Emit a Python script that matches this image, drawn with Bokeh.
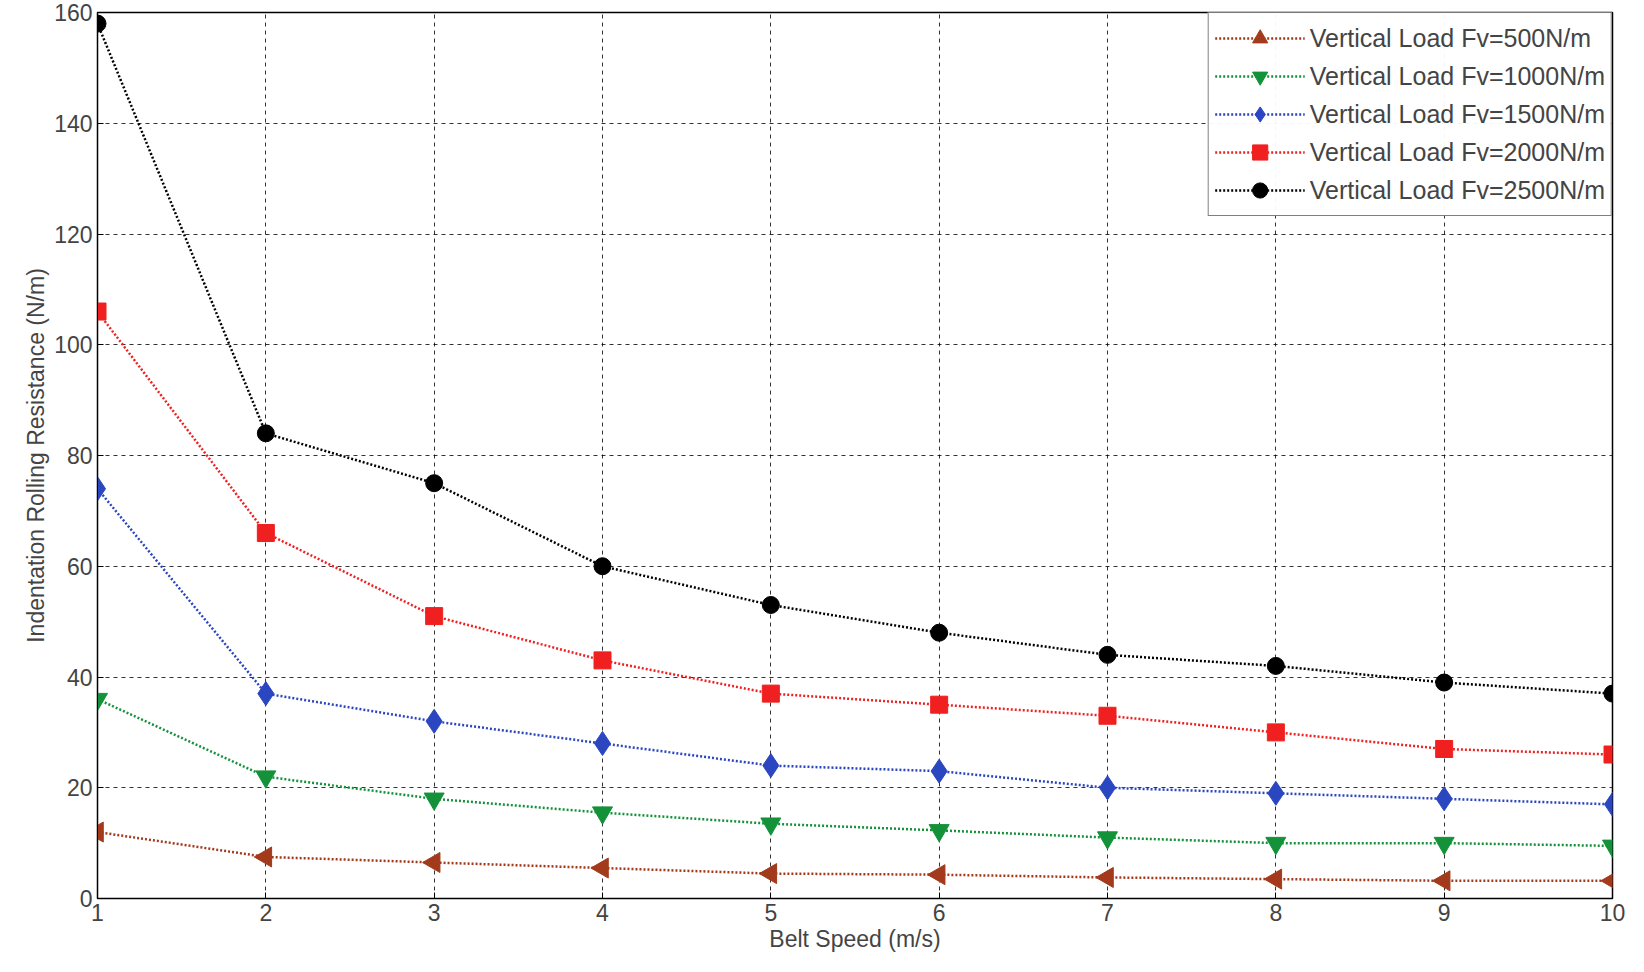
import math
from bokeh.plotting import figure
from bokeh.models import Range1d, FixedTicker
from bokeh.embed import file_html
from bokeh.resources import INLINE

speed = [1, 2, 3, 4, 5, 6, 7, 8, 9, 10]
fv500 = [12, 7.5, 6.5, 5.5, 4.5, 4.3, 3.8, 3.5, 3.2, 3.2]
fv1000 = [36, 22, 18, 15.5, 13.5, 12.3, 11, 10, 10, 9.5]
fv1500 = [74, 37, 32, 28, 24, 23, 20, 19, 18, 17]
fv2000 = [106, 66, 51, 43, 37, 35, 33, 30, 27, 26]
fv2500 = [158, 84, 75, 60, 53, 48, 44, 42, 39, 37]
labels = ["Vertical Load Fv=500N/m", "Vertical Load Fv=1000N/m", "Vertical Load Fv=1500N/m",
          "Vertical Load Fv=2000N/m", "Vertical Load Fv=2500N/m"]

p = figure(width=1628, height=956, output_backend="svg", toolbar_location=None,
           x_range=Range1d(1, 10), y_range=Range1d(0, 160),
           min_border_left=97, min_border_right=16, min_border_top=12, min_border_bottom=58)
p.outline_line_color = "black"
p.outline_line_width = 1.5
p.xaxis.ticker = FixedTicker(ticks=list(range(1, 11)))
p.yaxis.ticker = FixedTicker(ticks=list(range(0, 161, 20)))
for ax in (p.xaxis[0], p.yaxis[0]):
    ax.major_label_text_font_size = "23px"
    ax.major_label_text_font = "Liberation Sans"
    ax.axis_label_text_font_size = "23px"
    ax.axis_label_text_font = "Liberation Sans"
    ax.axis_label_text_font_style = "normal"
    ax.minor_tick_line_color = None
    ax.major_tick_in = 6
    ax.major_tick_out = 0
p.xaxis.axis_label = "Belt Speed (m/s)"
p.yaxis.axis_label = "Indentation Rolling Resistance (N/m)"
p.xaxis.axis_label_standoff = 2
p.yaxis.axis_label_standoff = 2
p.grid.grid_line_color = "black"
p.grid.grid_line_dash = "4 4"
p.grid.grid_line_alpha = 0.8

series = [
    (fv500, "#a33a1c", "triangle", math.pi / 2, 20),
    (fv1000, "#14923a", "inverted_triangle", 0, 20),
    (fv1500, "#2a46c0", "diamond", 0, 24),
    (fv2000, "#f02020", "square", 0, 17),
    (fv2500, "black", "circle", 0, 17),
]
for (ys, c, m, a, s), lab in zip(series, labels):
    p.line(speed, ys, line_color=c, line_width=2.5, line_dash="2 2", legend_label=lab)
    p.scatter(speed, ys, marker=m, angle=a, size=s, fill_color=c, line_color=c, legend_label=lab)

p.legend.location = "top_right"
p.legend.label_text_font = "Liberation Sans"
p.legend.label_text_font_size = "25px"
p.legend.border_line_color = "black"
p.legend.border_line_width = 1.5
p.legend.margin = 0
p.legend.padding = 6
p.legend.spacing = 0
p.legend.glyph_width = 90
p.legend.label_height = 38
p.legend.glyph_height = 38

open("out.html", "w").write(file_html(p, INLINE))
